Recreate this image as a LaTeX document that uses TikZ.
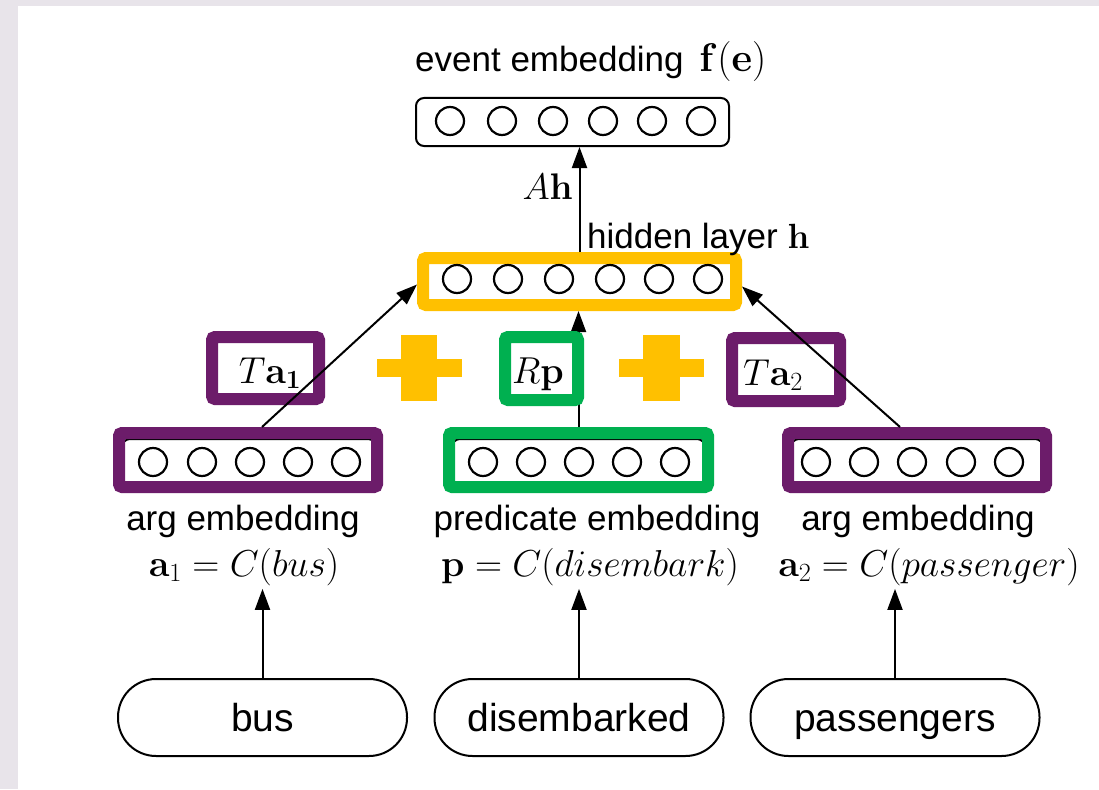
\RequirePackage{fix-cm}
\documentclass[tikz,border=0pt]{standalone}
\usepackage[no-math]{fontspec}
\setmainfont{Liberation Sans}
\usetikzlibrary{arrows.meta}

\definecolor{bglav}{RGB}{232,228,234}
\definecolor{argpurple}{RGB}{108,28,106}
\definecolor{predgreen}{RGB}{0,176,80}
\definecolor{hidgold}{RGB}{255,192,0}

\tikzset{
  vec/.style={draw=black,line width=2pt,rounded corners=8pt,inner sep=0pt},
  unit/.style={line width=2.2pt},
  frame/.style={line width=12pt,rounded corners=3pt,inner sep=0pt},
  wordbox/.style={draw,line width=2pt,rounded corners=38pt,minimum width=289pt,minimum height=77pt,
    inner sep=0pt,text height=28pt,text depth=0pt,font=\fontsize{39}{46}\selectfont},
  lbl/.style={font=\fontsize{35}{42}\selectfont,inner sep=0pt},
  eq/.style={font=\fontsize{37.5}{44}\selectfont},
  conn/.style={line width=2pt,-{Triangle[length=21pt,width=15pt]}},
}

\begin{document}
\begin{tikzpicture}[x=1pt,y=-1pt]
\path[use as bounding box] (0,0) rectangle (1099,789);
\fill[bglav] (0,0) rectangle (1099,789);
\fill[white] (18,6) rectangle (1099,789);

% event embedding
\node[lbl,anchor=base west] (evlbl) at (415,72) {event embedding\hspace{0.45em}{\fontsize{40}{46}\selectfont$\mathbf{f}(\mathbf{e})$}};
\node[vec,minimum width=313pt,minimum height=48pt] (event) at (572.5,122) {};
\foreach \x in {450,502,553,603,652,701} \draw[unit] (\x,121) circle (14pt);

% hidden layer
\node[frame,draw=hidgold,minimum width=313pt,minimum height=47pt] (hidden) at (579.5,281.5) {};
\foreach \x in {457,508,559,610,659,708} \draw[unit] (\x,279) circle (14pt);
\node[eq,anchor=base east,inner sep=0pt,font=\fontsize{37}{44}\selectfont] (ahlbl) at (573,199) {$A\mathbf{h}$};
\node[lbl,anchor=base west] (hidlbl) at (587,248) {hidden layer $\mathbf{h}$};
\draw[conn] (hidden.north) -- (hidden.north |- event.south);

% argument and predicate vectors
\draw[vec] (122,439) rectangle (376,484);
\draw[vec] (452,439) rectangle (705,484);
\draw[vec] (791,439) rectangle (1043,484);
\node[frame,draw=argpurple,minimum width=258pt,minimum height=54pt] (arg1) at (248,460) {};
\node[frame,draw=predgreen,minimum width=259pt,minimum height=54pt] (pred) at (578.5,460) {};
\node[frame,draw=argpurple,minimum width=258pt,minimum height=54pt] (arg2) at (917,460) {};
\foreach \x in {153,202,250,298,346} \draw[unit] (\x,462) circle (14pt);
\foreach \x in {483,531,579,627,675} \draw[unit] (\x,462) circle (14pt);
\foreach \x in {816,864,912,961,1009} \draw[unit] (\x,462) circle (14pt);

% transformed inputs
\draw[conn] (pred.north) -- (pred.north |- hidden.south);
\node[frame,draw=argpurple,minimum width=107pt,minimum height=62pt] (targ1) at (265.5,368) {};
\node[frame,draw=predgreen,fill=white,minimum width=73pt,minimum height=63pt] (rpred) at (541.5,368.5) {};
\node[frame,draw=argpurple,minimum width=108pt,minimum height=63pt] (targ2) at (786,369.5) {};
\node[eq] (ta1) at (270,373) {$T\mathbf{a_1}$};
\node[eq] (rp) at (538,374) {$R\mathbf{p}$};
\node[eq] (ta2) at (773,375) {$T\mathbf{a}_2$};
\draw[conn] ([xshift=14pt]arg1.north) -- ([yshift=-3pt]hidden.west);
\draw[conn] ([xshift=-17pt]arg2.north) -- ([yshift=-5pt]hidden.east);

% plus signs
\fill[hidgold] (377,359) rectangle (462,377);
\fill[hidgold] (401,335) rectangle (437,401);
\fill[hidgold] (619,359) rectangle (704,377);
\fill[hidgold] (643,335) rectangle (680,401);

% labels under the vectors
\node[lbl,anchor=base] (lbl1) at (243,530) {arg embedding};
\node[lbl,anchor=base] (lbl2) at (597,530) {predicate embedding};
\node[lbl,anchor=base] (lbl3) at (918,530) {arg embedding};
\node[eq,anchor=base] (eq1) at (244,576) {$\mathbf{a}_1 = C(bus)$};
\node[eq,anchor=base] (eq2) at (590,576) {$\mathbf{p} = C(disembark)$};
\node[eq,anchor=base] (eq3) at (929,576) {$\mathbf{a}_2 = C(passenger)$};

% input words
\node[wordbox] (bus) at (262.5,717.5) {bus};
\node[wordbox] (disemb) at (579,717.5) {disembarked};
\node[wordbox] (pass) at (895,717.5) {passengers};
\draw[conn] (bus.north) -- (bus.north |- eq1.south);
\draw[conn] (disemb.north) -- (disemb.north |- eq2.south);
\draw[conn] (pass.north) -- (pass.north |- eq3.south);
\end{tikzpicture}
\end{document}
